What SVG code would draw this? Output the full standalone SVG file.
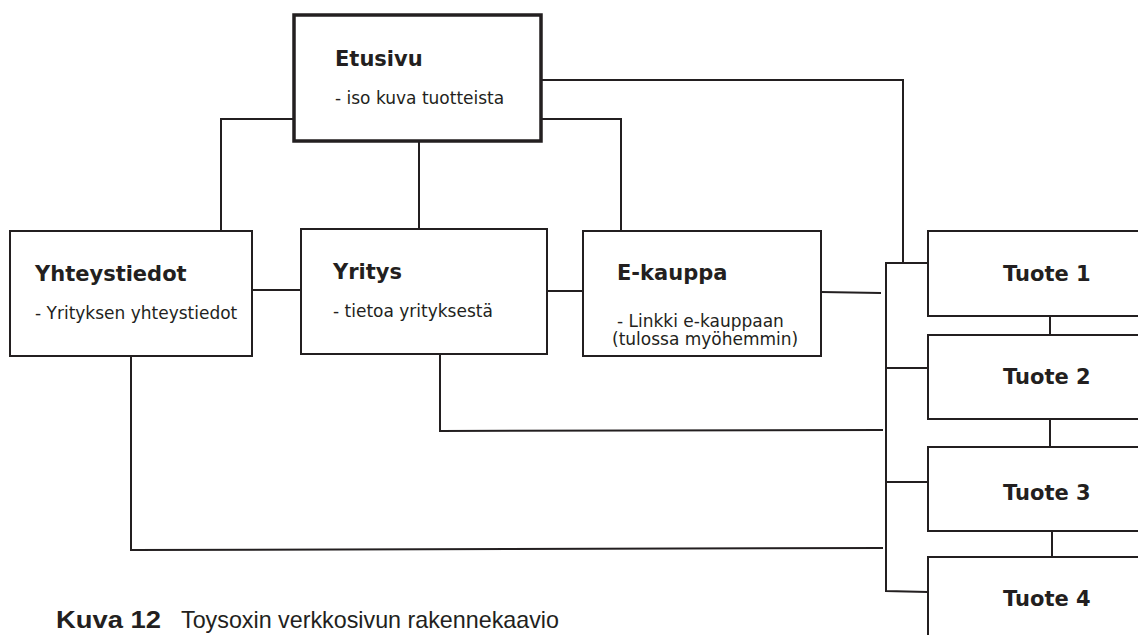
<svg xmlns="http://www.w3.org/2000/svg" width="1138" height="635" viewBox="0 0 1138 635">
<style>
.box{fill:#fff;stroke:#231f20;stroke-width:2}
.main{fill:#fff;stroke:#231f20;stroke-width:3.5}
.t{font-family:"DejaVu Sans",Verdana,sans-serif;font-weight:bold;font-size:21px;fill:#231f20}
.s{font-family:"DejaVu Sans",Verdana,sans-serif;font-size:17px;fill:#231f20}
.c{fill:none;stroke:#231f20;stroke-width:2}
.cap{font-family:"Liberation Sans",Arial,sans-serif;font-size:24px;fill:#231f20}
</style>
<rect width="1138" height="635" fill="#fff"/>
<g id="connectors" class="c">
<polyline points="294,119 221,119 221,231"/>
<line x1="419" y1="141" x2="419" y2="229"/>
<polyline points="541,119 621,119 621,231"/>
<polyline points="541,80 903,80 903,263"/>
<line x1="252" y1="290" x2="301" y2="290"/>
<line x1="547" y1="291" x2="583" y2="291"/>
<line x1="821" y1="292" x2="881" y2="293"/>
<polyline points="440,354 440,431 883,430"/>
<polyline points="131,356 131,550 883,548"/>
<polyline points="928,263 886,263 886,591 928,592"/>
<line x1="886" y1="368" x2="928" y2="368"/>
<line x1="886" y1="482" x2="928" y2="482"/>
<line x1="1050" y1="316" x2="1050" y2="335"/>
<line x1="1050" y1="419" x2="1050" y2="447"/>
<line x1="1052" y1="531" x2="1052" y2="557"/>
</g>
<g id="etusivu">
<rect class="main" x="294" y="15" width="247" height="126"/>
<text class="t" x="335" y="66">Etusivu</text>
<text class="s" x="335" y="104">- iso kuva tuotteista</text>
</g>
<g id="yhteystiedot">
<rect class="box" x="10" y="231" width="242" height="125"/>
<text class="t" x="35" y="281">Yhteystiedot</text>
<text class="s" x="35" y="319">- Yrityksen yhteystiedot</text>
</g>
<g id="yritys">
<rect class="box" x="301" y="229" width="246" height="125"/>
<text class="t" x="333" y="279">Yritys</text>
<text class="s" x="333" y="317">- tietoa yrityksestä</text>
</g>
<g id="ekauppa">
<rect class="box" x="583" y="231" width="238" height="125"/>
<text class="t" x="617" y="280">E-kauppa</text>
<text class="s" x="617" y="327">- Linkki e-kauppaan</text>
<text class="s" x="612" y="345">(tulossa myöhemmin)</text>
</g>
<g id="tuote1">
<rect class="box" x="928" y="231" width="220" height="85"/>
<text class="t" x="1003" y="281">Tuote 1</text>
</g>
<g id="tuote2">
<rect class="box" x="928" y="335" width="220" height="84"/>
<text class="t" x="1003" y="384">Tuote 2</text>
</g>
<g id="tuote3">
<rect class="box" x="928" y="447" width="220" height="84"/>
<text class="t" x="1003" y="500">Tuote 3</text>
</g>
<g id="tuote4">
<rect class="box" x="928" y="557" width="220" height="100"/>
<text class="t" x="1003" y="606">Tuote 4</text>
</g>
<g id="caption">
<text class="cap" x="56" y="628" font-weight="bold" textLength="105" lengthAdjust="spacingAndGlyphs">Kuva 12</text>
<text class="cap" x="181" y="628" textLength="378" lengthAdjust="spacingAndGlyphs">Toysoxin verkkosivun rakennekaavio</text>
</g>
</svg>
